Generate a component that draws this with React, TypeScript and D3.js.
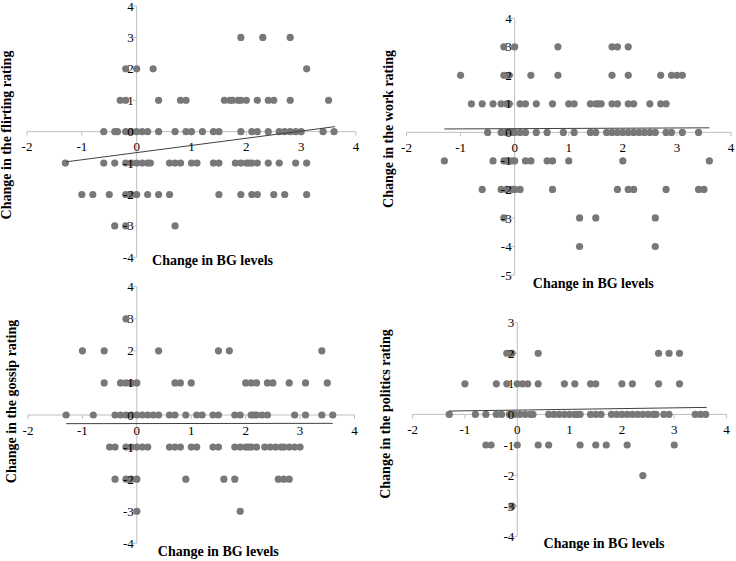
import * as d3 from 'd3';

type Pt = [number, number];

// [change in BG level, change in rating]
const flirting: Pt[] = [
  [1.9, 3], [2.3, 3], [2.8, 3],
  [-0.2, 2], [0, 2], [0.3, 2], [3.1, 2],
  [-0.3, 1], [-0.2, 1], [0.4, 1], [0.8, 1], [0.9, 1], [1.6, 1], [1.7, 1], [1.75, 1], [1.85, 1],
  [1.9, 1], [2.0, 1], [2.2, 1], [2.4, 1], [2.5, 1], [2.8, 1], [3.5, 1],
  [-0.6, 0], [-0.4, 0], [-0.35, 0], [-0.2, 0], [-0.1, 0], [0, 0], [0.1, 0], [0.2, 0], [0.4, 0],
  [0.7, 0], [0.9, 0], [1.0, 0], [1.2, 0], [1.4, 0], [1.5, 0], [1.9, 0], [2.1, 0], [2.2, 0],
  [2.4, 0], [2.6, 0], [2.7, 0], [2.8, 0], [2.9, 0], [3.0, 0], [3.4, 0], [3.6, 0],
  [-1.3, -1], [-0.6, -1], [-0.4, -1], [-0.2, -1], [-0.1, -1], [0, -1], [0.1, -1], [0.2, -1],
  [0.25, -1], [0.6, -1], [0.7, -1], [0.8, -1], [1.0, -1], [1.1, -1], [1.4, -1], [1.5, -1],
  [1.8, -1], [1.9, -1], [2.0, -1], [2.05, -1], [2.1, -1], [2.2, -1], [2.4, -1], [2.6, -1],
  [2.9, -1], [3.1, -1],
  [-1.0, -2], [-0.8, -2], [-0.5, -2], [-0.2, -2], [-0.1, -2], [0, -2], [0.2, -2], [0.4, -2],
  [0.6, -2], [1.5, -2], [1.9, -2], [2.1, -2], [2.2, -2], [2.5, -2], [2.7, -2], [3.1, -2],
  [-0.4, -3], [-0.2, -3], [0.7, -3],
];

const work: Pt[] = [
  [-0.2, 3], [0, 3], [0.8, 3], [1.8, 3], [1.9, 3], [2.1, 3],
  [-1.0, 2], [-0.2, 2], [-0.1, 2], [0.3, 2], [0.8, 2], [1.8, 2], [2.1, 2], [2.7, 2], [2.9, 2],
  [3.0, 2], [3.1, 2],
  [-0.8, 1], [-0.6, 1], [-0.4, 1], [-0.25, 1], [-0.15, 1], [-0.1, 1], [0.1, 1], [0.2, 1],
  [0.4, 1], [0.7, 1], [1.0, 1], [1.1, 1], [1.4, 1], [1.5, 1], [1.55, 1], [1.6, 1], [1.8, 1],
  [1.9, 1], [2.1, 1], [2.2, 1], [2.5, 1], [2.7, 1], [2.8, 1],
  [-0.5, 0], [-0.25, 0], [-0.15, 0], [-0.05, 0], [0, 0], [0.1, 0], [0.2, 0], [0.4, 0], [0.6, 0],
  [0.9, 0], [1.1, 0], [1.4, 0], [1.5, 0], [1.7, 0], [1.8, 0], [1.9, 0], [2.0, 0], [2.1, 0],
  [2.2, 0], [2.3, 0], [2.4, 0], [2.5, 0], [2.6, 0], [2.8, 0], [2.9, 0], [3.1, 0], [3.4, 0],
  [-1.3, -1], [-0.4, -1], [-0.2, -1], [-0.15, -1], [-0.05, -1], [0, -1], [0.2, -1], [0.3, -1],
  [0.6, -1], [0.7, -1], [1.0, -1], [2.0, -1], [3.6, -1],
  [-0.6, -2], [-0.25, -2], [-0.15, -2], [-0.05, -2], [0, -2], [0.1, -2], [0.7, -2], [1.9, -2],
  [2.1, -2], [2.2, -2], [2.8, -2], [3.4, -2], [3.5, -2],
  [-0.2, -3], [1.2, -3], [1.5, -3], [2.6, -3],
  [1.2, -4], [2.6, -4],
];

const gossip: Pt[] = [
  [-0.2, 3],
  [-1.0, 2], [-0.6, 2], [0.4, 2], [1.5, 2], [1.7, 2], [3.4, 2],
  [-0.6, 1], [-0.3, 1], [-0.2, 1], [-0.1, 1], [0, 1], [0.7, 1], [0.8, 1], [1.0, 1], [2.0, 1],
  [2.1, 1], [2.2, 1], [2.4, 1], [2.5, 1], [2.8, 1], [3.1, 1], [3.5, 1],
  [-1.3, 0], [-0.8, 0], [-0.4, 0], [-0.3, 0], [-0.2, 0], [-0.1, 0], [0, 0], [0.1, 0], [0.2, 0],
  [0.3, 0], [0.4, 0], [0.6, 0], [0.7, 0], [0.9, 0], [1.1, 0], [1.2, 0], [1.4, 0], [1.5, 0],
  [1.8, 0], [1.9, 0], [2.1, 0], [2.15, 0], [2.2, 0], [2.3, 0], [2.4, 0], [2.9, 0], [3.1, 0],
  [3.4, 0], [3.6, 0],
  [-0.5, -1], [-0.4, -1], [-0.2, -1], [-0.1, -1], [0, -1], [0.1, -1], [0.2, -1], [0.6, -1],
  [0.7, -1], [0.8, -1], [1.0, -1], [1.1, -1], [1.4, -1], [1.5, -1], [1.8, -1], [1.9, -1],
  [2.0, -1], [2.05, -1], [2.1, -1], [2.2, -1], [2.35, -1], [2.45, -1], [2.55, -1], [2.65, -1],
  [2.7, -1], [2.8, -1], [2.9, -1], [3.0, -1],
  [-0.4, -2], [-0.2, -2], [-0.1, -2], [0, -2], [0.9, -2], [1.6, -2], [1.8, -2], [2.6, -2],
  [2.7, -2], [2.8, -2],
  [0, -3], [1.9, -3],
];

const politics: Pt[] = [
  [-0.2, 2], [-0.1, 2], [0.4, 2], [2.7, 2], [2.9, 2], [3.1, 2],
  [-1.0, 1], [-0.4, 1], [-0.2, 1], [0, 1], [0.1, 1], [0.2, 1], [0.4, 1], [0.9, 1], [1.1, 1],
  [1.4, 1], [1.5, 1], [2.0, 1], [2.2, 1], [2.7, 1], [3.1, 1],
  [-1.3, 0], [-0.8, 0], [-0.6, 0], [-0.4, 0], [-0.3, 0], [-0.15, 0], [-0.05, 0], [0.05, 0],
  [0.15, 0], [0.25, 0], [0.3, 0], [0.6, 0], [0.7, 0], [0.8, 0], [0.9, 0], [1.0, 0], [1.1, 0],
  [1.15, 0], [1.2, 0], [1.4, 0], [1.5, 0], [1.6, 0], [1.8, 0], [1.9, 0], [2.0, 0], [2.1, 0],
  [2.2, 0], [2.3, 0], [2.4, 0], [2.5, 0], [2.6, 0], [2.65, 0], [2.8, 0], [2.9, 0], [3.4, 0],
  [3.5, 0], [3.6, 0],
  [-0.6, -1], [-0.5, -1], [0, -1], [0.4, -1], [0.6, -1], [1.2, -1], [1.5, -1], [1.7, -1],
  [2.1, -1], [3.0, -1],
  [2.4, -2],
  [-0.1, -3],
];

// linear trend line end points
const flirtingTrend: Pt[] = [[-1.28, -0.96], [3.62, 0.16]];
const workTrend: Pt[] = [[-1.3, 0.12], [3.6, 0.16]];
const gossipTrend: Pt[] = [[-1.3, -0.27], [3.6, -0.26]];
const politicsTrend: Pt[] = [[-1.3, 0.11], [3.62, 0.23]];

const xTicks = [-2, -1, 0, 1, 2, 3, 4];
const xTitle = 'Change in BG levels';

const AXIS = '#bfbfbf';
const DOT = '#787878';
const LINE = '#404040';
const FONT = '"Liberation Serif", "Times New Roman", serif';

interface PanelProps {
  points: Pt[];
  trend: Pt[];
  xPx: [number, number];
  yDomain: [number, number];
  yPx: [number, number];
  yTitle: string;
  yTitleAt: [number, number];
  xTitleAt: [number, number];
}

function Panel({ points, trend, xPx, yDomain, yPx, yTitle, yTitleAt, xTitleAt }: PanelProps) {
  const x = d3.scaleLinear().domain([-2, 4]).range(xPx);
  const y = d3.scaleLinear().domain(yDomain).range(yPx);
  const yTicks = d3.range(yDomain[0], yDomain[1] + 1);
  const x0 = x(0);
  const y0 = y(0);
  const line = d3.line<Pt>().x((d) => x(d[0])).y((d) => y(d[1]));

  return (
    <g>
      {/* axes */}
      <line x1={x(-2)} x2={x(4)} y1={y0} y2={y0} stroke={AXIS} />
      <line x1={x0} x2={x0} y1={y(yDomain[0])} y2={y(yDomain[1])} stroke={AXIS} />
      {xTicks.map((t) => (
        <line key={'xt' + t} x1={x(t)} x2={x(t)} y1={y0} y2={y0 + 4} stroke={AXIS} />
      ))}
      {yTicks.map((t) => (
        <line key={'yt' + t} x1={x0 - 4} x2={x0} y1={y(t)} y2={y(t)} stroke={AXIS} />
      ))}

      {points.map((d, i) => (
        <circle key={i} cx={x(d[0])} cy={y(d[1])} r={3.6} fill={DOT} />
      ))}

      <path d={line(trend) ?? ''} fill="none" stroke={LINE} strokeWidth={1} />

      {/* tick labels */}
      {xTicks.map((t) => (
        <text key={'xl' + t} x={x(t)} y={y0 + 19.5} textAnchor="middle" fontSize={13} fill="#000">
          {t}
        </text>
      ))}
      {yTicks.map((t) => (
        <text key={'yl' + t} x={x0 - 3} y={y(t)} dy="0.35em" textAnchor="end" fontSize={13} fill="#000">
          {t}
        </text>
      ))}

      <text x={xTitleAt[0]} y={xTitleAt[1]} textAnchor="middle" fontSize={14} fontWeight="bold">
        {xTitle}
      </text>
      <text
        transform={`translate(${yTitleAt[0]},${yTitleAt[1]}) rotate(-90)`}
        textAnchor="middle"
        fontSize={14}
        fontWeight="bold"
      >
        {yTitle}
      </text>
    </g>
  );
}

export default function App() {
  return (
    <svg
      width={736}
      height={561}
      style={{ position: 'absolute', left: 0, top: 0, background: '#fff', fontFamily: FONT }}
    >
      <Panel
        points={flirting}
        trend={flirtingTrend}
        xPx={[27, 356]}
        yDomain={[-4, 4]}
        yPx={[257.3, 6]}
        yTitle="Change in the flirting rating"
        yTitleAt={[11, 135]}
        xTitleAt={[212.5, 265]}
      />
      <Panel
        points={work}
        trend={workTrend}
        xPx={[406.5, 731]}
        yDomain={[-5, 4]}
        yPx={[275, 18.3]}
        yTitle="Change in the work rating"
        yTitleAt={[393.3, 129]}
        xTitleAt={[593.3, 288]}
      />
      <Panel
        points={gossip}
        trend={gossipTrend}
        xPx={[28, 354.5]}
        yDomain={[-4, 4]}
        yPx={[543.3, 286.7]}
        yTitle="Change in the gossip rating"
        yTitleAt={[15.5, 401.5]}
        xTitleAt={[218.3, 556]}
      />
      <Panel
        points={politics}
        trend={politicsTrend}
        xPx={[412.6, 726.6]}
        yDomain={[-4, 3]}
        yPx={[536.7, 322.7]}
        yTitle="Change in the politics rating"
        yTitleAt={[390, 414]}
        xTitleAt={[604, 548]}
      />
    </svg>
  );
}
